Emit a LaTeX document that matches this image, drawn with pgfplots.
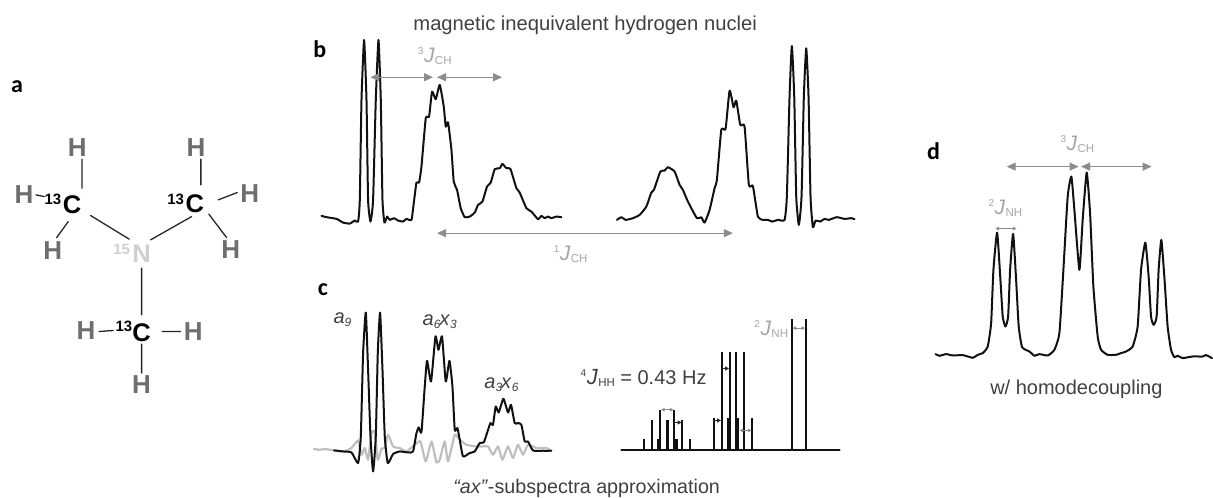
\documentclass[border=0pt]{standalone}
\usepackage{fontspec}
\usepackage{pgfplots}
\pgfplotsset{compat=1.18}
\usetikzlibrary{arrows.meta}
\setmainfont{Liberation Sans}
\newfontfamily\carl{Carlito}
\definecolor{grJ}{HTML}{A6A6A6}
\definecolor{grA}{HTML}{8C8C8C}
\definecolor{txt}{HTML}{404040}
\definecolor{hh}{HTML}{6E6E6E}
\definecolor{nn}{HTML}{CFCFCF}
\definecolor{crv}{HTML}{111111}
\newcommand{\fs}[1]{\fontsize{#1}{#1}\selectfont}
\newcommand{\JJ}[3][21]{\raisebox{8.5pt}{\fs{10}#2}\kern0.5pt{\fs{#1}\textit{J}}\kern0.3pt\raisebox{-2pt}{\fs{11.5}#3}}
\newcommand{\sub}[2]{{\fs{20}\textit{#1}}\raisebox{-0.45ex}{\fs{12}\textit{#2}}}
\begin{document}
\begin{tikzpicture}
\begin{axis}[
  scale only axis, width=1213pt, height=497pt,
  xmin=0, xmax=1213, ymin=0, ymax=497, y dir=reverse,
  hide axis, clip=false, unbounded coords=jump,
  every axis plot/.append style={line cap=round, line join=round},
  curve/.style={crv, line width=2pt, no marks, smooth, tension=0.3},
  stick/.style={crv, line width=1.9pt, no marks},
  arr/.style={grA, line width=1.3pt, no marks, {Triangle[length=9pt,width=8pt]}-{Triangle[length=9pt,width=8pt]}},
  arrs/.style={grA, line width=0.9pt, no marks, {Triangle[length=3.5pt,width=3.5pt]}-{Triangle[length=3.5pt,width=3.5pt]}},
  arrk/.style={black!85, line width=1pt, no marks, -{Triangle[length=4pt,width=4pt]}},
]
\path (axis cs:0,0) rectangle (axis cs:1213,497);
% --- a: molecule bonds
\addplot[black!85, line width=1.3pt, no marks] coordinates {
 (82,159.3)(82,188.3)(82,nan)
 (36,195)(44.3,196.7)(44.3,nan)
 (68.3,221.7)(56.7,237.7)(56.7,nan)
 (90.7,215.7)(129.3,239.3)(129.3,nan)
 (201,159.3)(201,185)(201,nan)
 (218.3,200)(237.3,192.7)(237.3,nan)
 (209,214.3)(226.7,237.7)(226.7,nan)
 (191.7,216.7)(150.7,240)(150.7,nan)
 (141.7,268.3)(141.7,315)(141.7,nan)
 (99,331.7)(113.3,330.7)(113.3,nan)
 (162.3,331.7)(180.7,331.7)(180.7,nan)
 (141.7,344.3)(141.7,373.3)};
% --- b
\addplot[curve] coordinates {(321.7,216)(326.7,217.3)(336.7,219)(343.3,222.7)(350,223.7)(355,220.7)(358.3,221.7)(360,200)(361.7,100)(364.3,40)(366.7,100)(368.3,200)(370.7,221.7)(373.3,200)(376,100)(378.7,40)(381,100)(382.7,200)(384.7,222.7)(387.3,216.7)(390,220)(394.3,218.3)(398.3,220.7)(403.3,221.7)(406.7,219)(411.7,220)(414,203.3)(416.7,182.7)(419.3,182.7)(421.7,166.7)(426,118.3)(429.3,116.7)(432.3,91.7)(436,99.3)(440,85)(444,106.7)(446,126.7)(448.3,122.3)(451.7,150)(454,181.7)(457.3,190)(461,208.3)(465,217.3)(470,216.7)(475,212.7)(478.3,205)(482.7,201.7)(487.3,186.7)(491,182.7)(495,169.3)(500,168.3)(502.7,164)(506.7,168.3)(510.7,169)(516.7,188.3)(520,192.7)(526.7,208.3)(531.7,211.7)(538.3,219.3)(541.7,216)(545,218.3)(548.3,216.7)(551.7,218.3)(556.7,216.7)(561.7,217.3)};
\addplot[curve] coordinates {(617.3,220)(621.7,217.3)(626,220)(633.3,218.3)(640,215)(646.7,206.7)(651.7,192.7)(654.3,190)(660.7,171.7)(665,170.7)(668.3,167.3)(675,171.7)(680,185)(683.3,190)(688.3,201.7)(697.3,218.3)(701.7,217.3)(705,222.7)(710,210)(715,188.3)(717.3,180)(721.7,130)(726,129)(730,90.7)(734,107.3)(736.7,100.7)(740.7,125)(745,126.7)(749.3,185)(753.3,186)(758.3,216.7)(763.3,220)(768.3,220)(772.7,221.7)(778.3,220)(785,220)(787.3,196.7)(790,96.7)(792.3,46)(794.7,96.7)(796.7,196.7)(799.3,225)(802,196.7)(804.3,96.7)(806.7,48.3)(809,96.7)(811,196.7)(813.3,227.3)(816,220.7)(820.7,221.7)(825,219)(829.3,220)(837.3,217.3)(845,219)(851.7,218.3)(855,219.3)};
\addplot[arr] coordinates {(370.7,77.3)(433.3,77.3)};
\addplot[arr] coordinates {(437.3,77.3)(502.3,77.3)};
\addplot[arr] coordinates {(437.3,233.3)(733.3,233.3)};
% --- c
\addplot[color=black!25, line width=2.2pt, no marks, smooth, tension=0.3] coordinates {(314,449.3)(320,450)(325,449.3)(335,450.7)(343.3,451.7)(351.7,448.3)(358.3,440.7)(361.7,455)(365,448.3)(368.3,460)(371.7,433.3)(375,432)(378,460)(381.7,449)(385,448)(388.3,435)(393.3,446.7)(400,448.3)(406.7,451.7)(415,445)(420.7,441.7)(426,461.7)(431.7,441.7)(436.7,462.7)(440,460)(445,441.7)(448.3,461.7)(455,435)(460,440)(466.7,445)(476.7,446.7)(482.7,446.7)(488.3,446.7)(493.3,455)(498.3,446.7)(502.7,460)(508.3,446.7)(513.3,458.3)(518.3,445)(523.3,455)(528.3,445)(536.7,448.3)(546.7,448.3)(551.7,451.7)};
\addplot[curve] coordinates {(334.3,450.7)(343.3,451.7)(351.7,452.7)(358.3,463.3)(361,436.7)(363.3,353.3)(366,312.7)(368.3,370)(370.7,436.7)(373.3,471.7)(376,436.7)(378,353.3)(380.3,312.7)(382.7,370)(385,436.7)(388,463.3)(393.3,454.3)(400,451.7)(408.3,452.7)(413.3,451.7)(416.7,433.3)(419,427.7)(421.7,432.3)(425,386.7)(427.3,361)(431.3,381.7)(435.7,336.7)(438.7,350)(442.3,336.7)(446,381.7)(449.7,361)(452.7,386.7)(455,430)(457.7,428.3)(460,440)(463.3,456.7)(470,453.3)(475,451.7)(480,443.3)(484,442.7)(487.3,433.3)(490.7,423.3)(493.3,425)(496,406.7)(499,412.7)(503.7,399)(508.3,412.7)(511.3,405)(515,423.3)(518.3,423.3)(521.7,425)(525,441.7)(528.3,441.7)(533.3,450.7)(543.3,451)(551.7,451)};
% sticks
\addplot[stick, line width=2pt] coordinates {(621.7,450.7)(840,450.7)};
\addplot[stick, line cap=butt] coordinates {
 (644.3,450.7)(644.3,439.3)(644.3,nan)
 (652.7,450.7)(652.7,420.7)(652.7,nan)
 (660.7,450.7)(660.7,410)(660.7,nan)
 (674.7,450.7)(674.7,410)(674.7,nan)
 (682.7,450.7)(682.7,420.7)(682.7,nan)
 (690.7,450.7)(690.7,439.3)(690.7,nan)
 (714.3,450.7)(714.3,418.7)(714.3,nan)
 (722.3,450.7)(722.3,352)(722.3,nan)
 (730.7,450.7)(730.7,352)(730.7,nan)
 (736.3,450.7)(736.3,352)(736.3,nan)
 (744.7,450.7)(744.7,352)(744.7,nan)
 (752.7,450.7)(752.7,418.7)(752.7,nan)
 (792,450.7)(792,319.3)(792,nan)
 (806.3,450.7)(806.3,319.3)};
\addplot[stick, line width=3.4pt, line cap=butt] coordinates {
 (659,450.7)(659,439.3)(659,nan)
 (667.7,450.7)(667.7,420.7)(667.7,nan)
 (676.3,450.7)(676.3,439.3)(676.3,nan)
 (729.3,450.7)(729.3,418.7)(729.3,nan)
 (738,450.7)(738,418.7)};
\addplot[arrs] coordinates {(661.5,410)(674,410)};
\addplot[arrs] coordinates {(740,430.7)(752,430.7)};
\addplot[arrs] coordinates {(793,328.3)(805.5,328.3)};
\addplot[arrk] coordinates {(675.5,422.7)(682,422.7)};
\addplot[arrk] coordinates {(715,420.7)(721.5,420.7)};
\addplot[arrk] coordinates {(723,368.7)(729.5,368.7)};
% --- d
\addplot[curve] coordinates {(936,354.3)(940,356)(946.7,354.3)(953.3,355.7)(963.3,355.3)(973.3,358)(978.3,355)(983.3,353.3)(988.3,346.7)(991.7,323.3)(994,270)(997.7,232.7)(1001,280)(1003.3,316.7)(1006,326.7)(1008.7,316.7)(1010.7,270)(1013.7,234)(1016.7,280)(1019.3,326.7)(1022.7,347.3)(1030,351.7)(1035,356)(1040,354.3)(1048.3,355.7)(1055,350)(1060,333.3)(1064,270)(1068.3,196.7)(1072,176.7)(1075,210)(1080,270)(1083.3,220)(1087.3,172.7)(1090.7,213.3)(1094,286.7)(1098.3,336.7)(1101.7,350)(1108.3,355)(1116.7,355)(1121.7,353.3)(1126.7,351.7)(1133.3,346.7)(1138.3,326.7)(1141.7,270)(1146,242.7)(1149.3,276.7)(1151.7,316.7)(1154.3,325)(1157.3,316.7)(1159.3,270)(1162,240)(1165,276.7)(1168.3,326.7)(1171.7,350)(1175,357.3)(1178.3,356)(1183.3,358.3)(1193.3,356.7)(1203.3,356.7)(1206.7,355.3)(1212.7,358.3)};
\addplot[arr] coordinates {(1007.3,166.7)(1079.3,166.7)};
\addplot[arr] coordinates {(1081.7,166.7)(1152.3,166.7)};
\addplot[arrs, line width=1.1pt] coordinates {(996,228.7)(1017,228.7)};
% --- panel letters
\node[font={\carl\bfseries\fs{24}}] at (axis cs:17,87) {a};
\node[font={\carl\bfseries\fs{24}}] at (axis cs:320,49) {b};
\node[font={\carl\bfseries\fs{24}}] at (axis cs:323,290) {c};
\node[font={\carl\bfseries\fs{24}}] at (axis cs:934,151) {d};
% --- molecule labels
\tikzset{H/.style={font={\bfseries\fs{26}}, text=hh, inner sep=0pt}, C/.style={font={\bfseries\fs{25.5}}, text=black, inner sep=0pt}, I/.style={font={\bfseries\fs{15}}, text=black, inner sep=0pt}}
\node[H] at (axis cs:77.3,147.3) {H};
\node[H] at (axis cs:24,195) {H};
\node[H] at (axis cs:52.7,250.7) {H};
\node[H] at (axis cs:196,147.3) {H};
\node[H] at (axis cs:250,193.3) {H};
\node[H] at (axis cs:231,250) {H};
\node[H] at (axis cs:86,331) {H};
\node[H] at (axis cs:193.3,331.7) {H};
\node[H] at (axis cs:141.7,385) {H};
\node[C] at (axis cs:72,205) {C};
\node[C] at (axis cs:195,204) {C};
\node[C] at (axis cs:141.7,333.3) {C};
\node[I] at (axis cs:53,199) {13};
\node[I] at (axis cs:175.7,199.3) {13};
\node[I] at (axis cs:124,326.7) {13};
\node[C, text=nn] at (axis cs:141.7,254.3) {N};
\node[I, text=nn] at (axis cs:121.7,249.3) {15};
% --- texts
\node[font=\fs{20.2}, text=txt, inner sep=0pt] at (axis cs:585.5,25) {magnetic inequivalent hydrogen nuclei};
\node[text=grJ, inner sep=0pt, anchor=base] at (axis cs:435,63) {\JJ{3}{CH}};
\node[text=grJ, inner sep=0pt, anchor=base] at (axis cs:571,261) {\JJ{1}{CH}};
\node[text=txt, inner sep=0pt] at (axis cs:342.7,320) {\sub{a}{9}};
\node[text=txt, inner sep=0pt] at (axis cs:440,321.7) {\sub{a}{6}\kern-1pt\sub{x}{3}};
\node[text=txt, inner sep=0pt] at (axis cs:501.7,385) {\sub{a}{3}\kern-1pt\sub{x}{6}};
\node[text=txt, inner sep=0pt, anchor=base] at (axis cs:644,385) {\JJ[22]{4}{HH}\fs{20} = 0.43 Hz};
\node[text=grJ, inner sep=0pt, anchor=base] at (axis cs:771.7,336) {\JJ{2}{NH}};
\node[font=\fs{19.7}, text=txt, inner sep=0pt] at (axis cs:587,489) {\textit{“ax”}-subspectra approximation};
\node[font=\fs{20}, text=txt, inner sep=0pt] at (axis cs:1077,389.3) {w/ homodecoupling};
\node[text=grJ, inner sep=0pt, anchor=base] at (axis cs:1078,151) {\JJ{3}{CH}};
\node[text=grJ, inner sep=0pt, anchor=base] at (axis cs:1006,215) {\JJ{2}{NH}};
\end{axis}
\end{tikzpicture}
\end{document}
